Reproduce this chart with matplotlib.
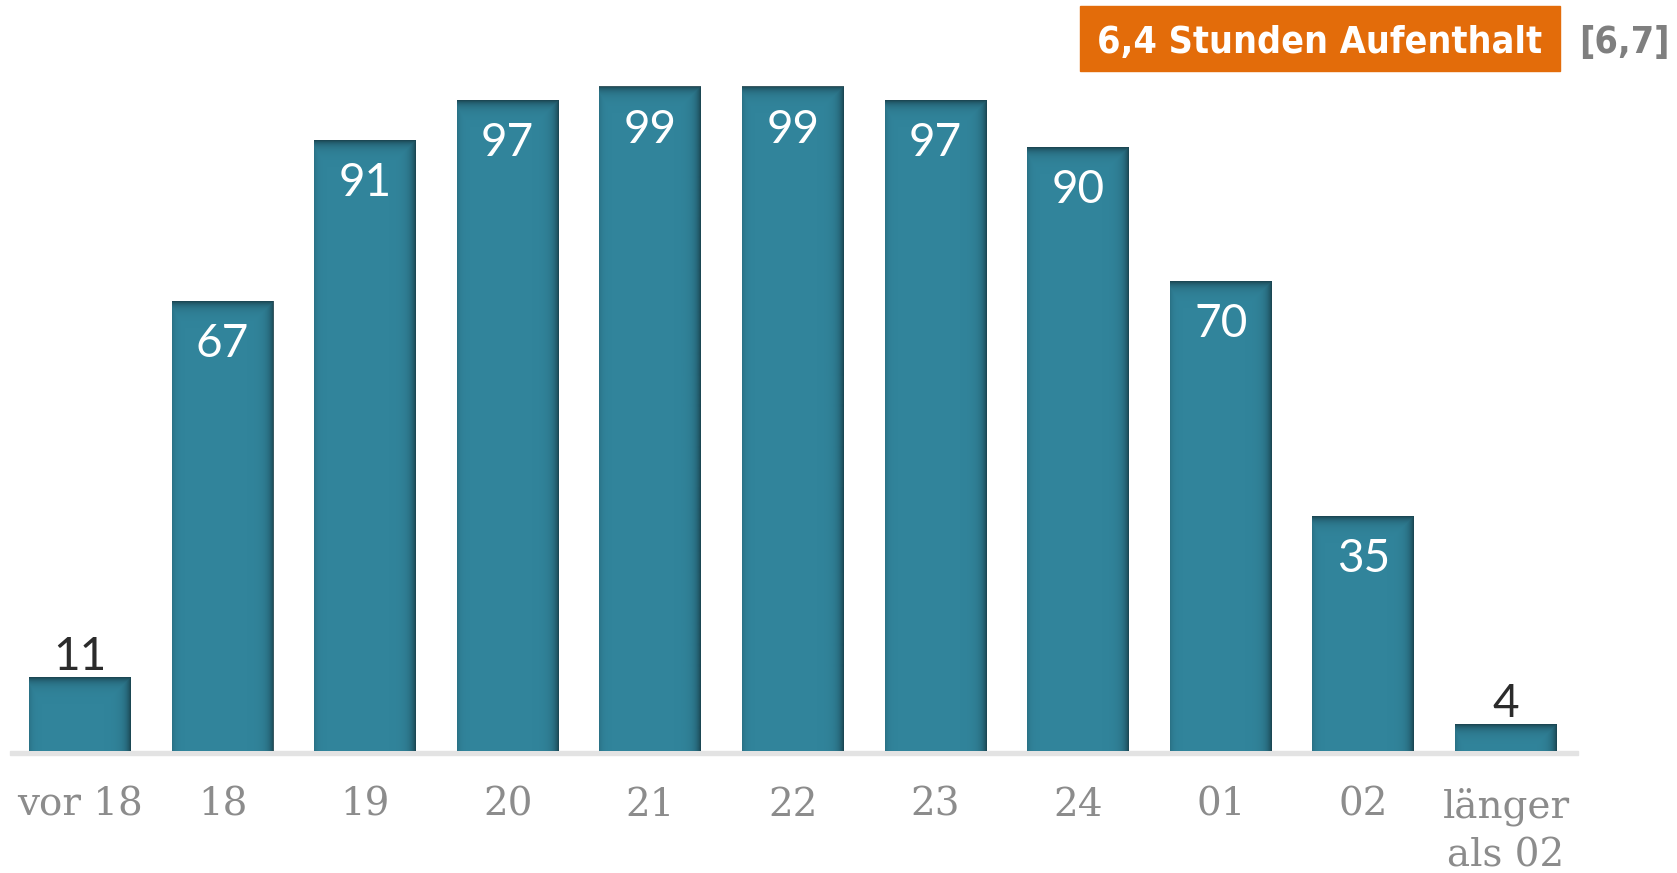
import numpy as np
import matplotlib
matplotlib.use("Agg")
import matplotlib.pyplot as plt
from matplotlib.patches import Rectangle

categories = ["vor 18", "18", "19", "20", "21", "22", "23", "24", "01", "02", "länger\nals 02"]
values = [11, 67, 91, 97, 99, 99, 97, 90, 70, 35, 4]
title_text = "6,4 Stunden Aufenthalt"
side_text = "[6,7]"

bar_col = "#31849b"
shade_col = np.array([0x17, 0x3c, 0x47]) / 255.0

W, H = 1677, 873
fig = plt.figure(figsize=(W / 100, H / 100), dpi=100)

# axes: baseline at y=751 px, bars pitch ~142.6 px
base_px = 751
ppu = 6.71  # pixels per value unit
ax = fig.add_axes([10 / W, (H - base_px) / H, (1578 - 10) / W, base_px / H])
x = np.arange(len(values))
xmin, xmax = -0.49, 10.505
ymax = base_px / ppu
bw = 0.715

ax.bar(x, values, width=bw, color=bar_col, zorder=2)

# inner shadow on top and right edges of each bar
px_per_x = (1578 - 10) / (xmax - xmin)
for xi, v in zip(x, values):
    wpx = int(round(bw * px_per_x))
    hpx = max(int(round(v * ppu)), 2)
    cols = np.arange(wpx)
    rows = np.arange(hpx)
    a_right = np.exp(-(wpx - 1 - cols) / 5.0) * 0.85
    a_left = np.exp(-cols / 3.0) * 0.25
    a_top = np.exp(-rows / 5.0) * 0.85
    alpha = np.maximum(a_top[:, None], np.maximum(a_right[None, :], a_left[None, :]))
    img = np.zeros((hpx, wpx, 4))
    img[..., :3] = shade_col
    img[..., 3] = alpha
    ax.imshow(img, extent=(xi - bw / 2, xi + bw / 2, 0, v), aspect="auto",
              interpolation="bilinear", zorder=3)

ax.set_xlim(xmin, xmax)
ax.set_ylim(0, ymax)
ax.axis("off")

# baseline
ax.add_patch(Rectangle((xmin, -0.62), xmax - xmin, 0.62, transform=ax.transData,
                       color="#e3e3e3", clip_on=False, zorder=1))

# value labels
for xi, v in zip(x, values):
    if v > 20:
        ax.text(xi, v - 43 / ppu, str(v), ha="center", va="center", color="white",
                fontsize=33, family="Lato", zorder=4)
    else:
        ax.text(xi, v - 1 / ppu, str(v), ha="center", va="bottom", color="#2b2b2b",
                fontsize=33, family="Lato", zorder=4)

# category labels
for xi, c in zip(x, categories):
    ax.text(xi, -36 / ppu, c, ha="center", va="top", color="#8c8c8c",
            fontsize=28, family="DejaVu Serif", linespacing=1.42)

# title box
fig.patches.append(Rectangle((1080 / W, 1 - 71 / H), (1560 - 1080) / W, 65 / H,
                             transform=fig.transFigure, color="#e36c0a"))
fig.text((1080 + 1560) / 2 / W, 1 - 43 / H, title_text, ha="center", va="center",
         color="white", fontsize=27, family="DejaVu Sans", fontweight="bold",
         fontstretch="condensed")
fig.text(1624 / W, 1 - 43 / H, side_text, ha="center", va="center",
         color="#7f7f7f", fontsize=27, family="DejaVu Sans", fontweight="bold",
         fontstretch="condensed")

fig.savefig("out.png", dpi=100)
